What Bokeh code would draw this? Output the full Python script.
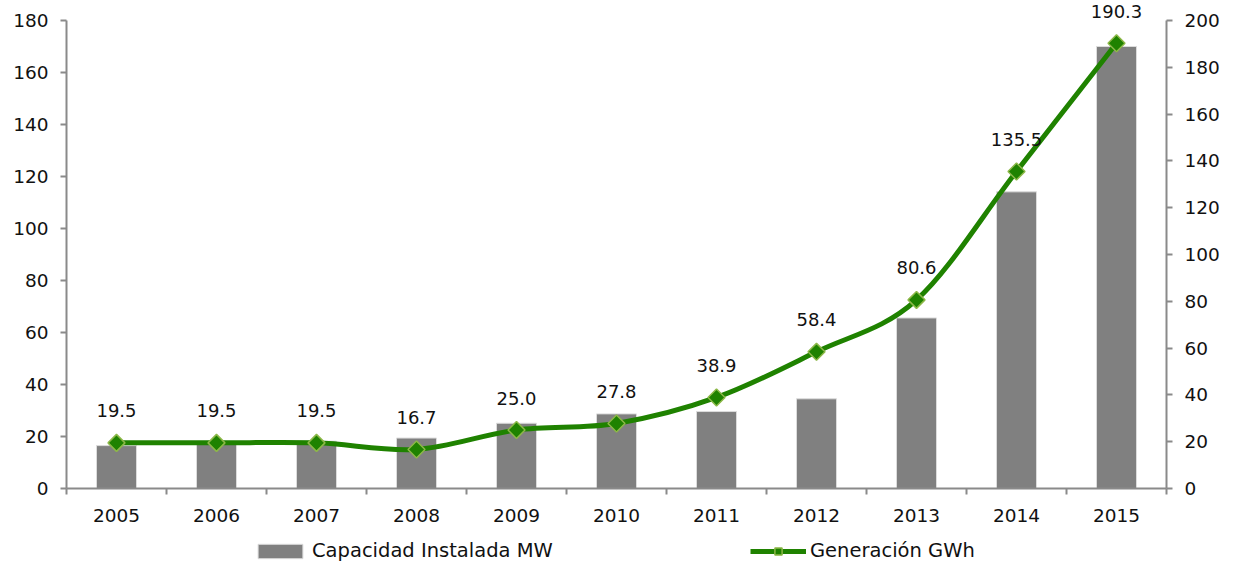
import math
from bokeh.plotting import figure
from bokeh.layouts import column
from bokeh.models import (ColumnDataSource, Range1d, LinearAxis, FixedTicker,
                          Legend, LegendItem)
from bokeh.core.properties import value
from bokeh.embed import file_html
from bokeh.resources import INLINE

years = ["2005", "2006", "2007", "2008", "2009", "2010", "2011", "2012", "2013", "2014", "2015"]
capacidad_mw = [16.5, 17.3, 18.2, 19.4, 25.1, 28.7, 29.6, 34.5, 65.6, 114.1, 170.0]
generacion_gwh = [19.5, 19.5, 19.5, 16.7, 25.0, 27.8, 38.9, 58.4, 80.6, 135.5, 190.3]
left_ticks = [0, 20, 40, 60, 80, 100, 120, 140, 160, 180]
right_ticks = [0, 20, 40, 60, 80, 100, 120, 140, 160, 180, 200]

FONT = "'DejaVu Sans'"
AXIS_COLOR = "#8a8a8a"
GREEN = "#1f8200"
BAR = "#808080"

# layout: frame spans 0..488 px; the 180 / 200 ticks sit 20 px below its top
FRAME_H = 488
TOP_GAP = 20
left_max = left_ticks[-1] * FRAME_H / (FRAME_H - TOP_GAP)
right_max = right_ticks[-1] * FRAME_H / (FRAME_H - TOP_GAP)

xs = list(range(len(years)))
src = ColumnDataSource(dict(
    x=xs, year=years, cap=capacidad_mw, gen=generacion_gwh,
    lbl=[f"{v:.1f}" for v in generacion_gwh],
))

# smoothed line (Catmull-Rom style Bezier segments between the data points)
n = len(xs)
seg = dict(x0=[], y0=[], x1=[], y1=[], cx0=[], cy0=[], cx1=[], cy1=[])
for i in range(n - 1):
    xp, yp = xs[max(i - 1, 0)], generacion_gwh[max(i - 1, 0)]
    xa, ya = xs[i], generacion_gwh[i]
    xb, yb = xs[i + 1], generacion_gwh[i + 1]
    xn, yn = xs[min(i + 2, n - 1)], generacion_gwh[min(i + 2, n - 1)]
    seg["x0"].append(xa); seg["y0"].append(ya)
    seg["x1"].append(xb); seg["y1"].append(yb)
    seg["cx0"].append(xa + (xb - xp) / 6); seg["cy0"].append(ya + (yb - yp) / 6)
    seg["cx1"].append(xb - (xn - xa) / 6); seg["cy1"].append(yb - (yn - ya) / 6)
seg_src = ColumnDataSource(seg)

p = figure(width=1233, height=536, output_backend="svg", toolbar_location=None,
           x_range=Range1d(-0.5, len(years) - 0.5), y_range=Range1d(0, left_max),
           min_border_left=66, min_border_right=67, min_border_top=0,
           min_border_bottom=48, outline_line_color=None, x_axis_type=None,
           y_axis_type=None)
p.extra_y_ranges = {"right": Range1d(0, right_max)}
p.xgrid.visible = False
p.ygrid.visible = False

def style_axis(ax):
    ax.axis_line_color = AXIS_COLOR
    ax.axis_line_width = 2
    ax.major_tick_line_color = AXIS_COLOR
    ax.major_tick_line_width = 2
    ax.minor_tick_line_color = AXIS_COLOR
    ax.minor_tick_line_width = 2
    ax.major_label_text_font = FONT
    ax.major_label_text_font_size = "18.5px"
    ax.major_label_text_color = "#111111"

# x axis: labels at centers, tick marks at category boundaries
xax = LinearAxis(ticker=FixedTicker(ticks=xs, minor_ticks=[i - 0.5 for i in range(len(years) + 1)]))
style_axis(xax)
xax.major_tick_line_color = None
xax.minor_tick_out = 6
xax.minor_tick_in = 0
xax.major_label_overrides = {i: y for i, y in zip(xs, years)}
xax.major_label_standoff = 14
p.add_layout(xax, "below")

yl = LinearAxis(ticker=FixedTicker(ticks=left_ticks, minor_ticks=[]),
                bounds=(left_ticks[0], left_ticks[-1]))
style_axis(yl)
yl.major_tick_out = 6
yl.major_tick_in = 0
yl.major_label_standoff = 12
p.add_layout(yl, "left")

yr = LinearAxis(y_range_name="right", ticker=FixedTicker(ticks=right_ticks, minor_ticks=[]),
                bounds=(right_ticks[0], right_ticks[-1]))
style_axis(yr)
yr.major_tick_out = 6
yr.major_tick_in = 0
yr.major_label_standoff = 12
p.add_layout(yr, "right")

p.vbar(x="x", top="cap", width=0.4, bottom=0, source=src,
       fill_color=BAR, line_color="#dcdcdc", line_width=1)

p.bezier(x0="x0", y0="y0", x1="x1", y1="y1", cx0="cx0", cy0="cy0",
         cx1="cx1", cy1="cy1", source=seg_src, y_range_name="right",
         line_color=GREEN, line_width=5)
p.scatter(x="x", y="gen", source=src, y_range_name="right",
          marker="square", size=12, angle=math.pi / 4,
          fill_color=GREEN, line_color="#8db848", line_width=1.5)

p.text(x="x", y="gen", text="lbl", source=src, y_range_name="right",
       text_font=value(FONT), text_font_size="18px", text_color="#111111",
       text_align="center", text_baseline="alphabetic", y_offset=-32)

# legend strip below the chart (its renderers are hidden; only the legend shows)
lg = figure(width=1233, height=29, output_backend="svg", toolbar_location=None,
            x_range=Range1d(-0.5, len(years) - 0.5), y_range=Range1d(0, 1),
            min_border_left=66, min_border_right=67, min_border_top=0,
            min_border_bottom=0, outline_line_color=None, x_axis_type=None,
            y_axis_type=None)
lg.xgrid.visible = False
lg.ygrid.visible = False
lb = lg.vbar(x="x", top="cap", width=0.4, source=src, fill_color=BAR,
             line_color="#dcdcdc", line_width=1, visible=False)
ll = lg.line(x="x", y="gen", source=src, line_color=GREEN, line_width=5,
             visible=False)
lm = lg.scatter(x="x", y="gen", source=src, marker="square", size=12,
                angle=math.pi / 4, fill_color=GREEN, line_color="#8db848",
                line_width=1.5, visible=False)

legend = Legend(items=[
    LegendItem(label="Capacidad Instalada MW", renderers=[lb]),
    LegendItem(label="Generación GWh", renderers=[ll, lm]),
], orientation="horizontal", location=(186, 3), padding=0, margin=0,
   spacing=0, glyph_width=56, glyph_height=18, label_standoff=4,
   label_width=438, label_text_font=FONT, label_text_font_size="19.5px",
   label_text_color="#111111", background_fill_alpha=0, border_line_color=None,
   inactive_fill_alpha=0)
lg.add_layout(legend, "center")

layout = column(p, lg, spacing=0)
open("out.html", "w").write(file_html(layout, INLINE))
